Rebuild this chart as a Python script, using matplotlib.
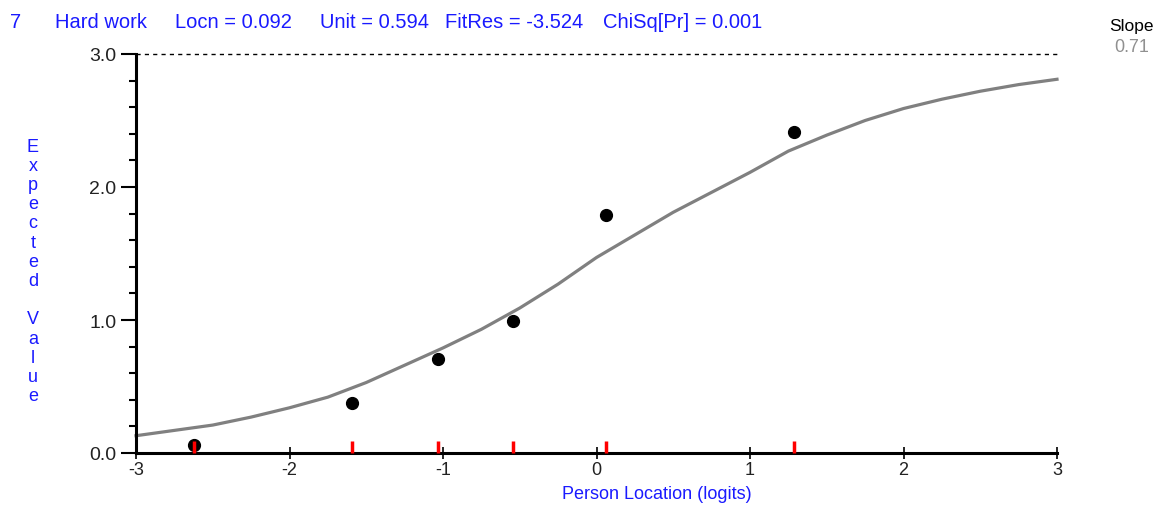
import numpy as np
import matplotlib.pyplot as plt
from matplotlib.ticker import MultipleLocator

# Expected value curve
curve_x = [-3.0, -2.75, -2.5, -2.25, -2.0, -1.75, -1.5, -1.25, -1.0, -0.75, -0.5, -0.25,
           0.0, 0.25, 0.5, 0.75, 1.0, 1.25, 1.5, 1.75, 2.0, 2.25, 2.5, 2.75, 3.0]
curve_y = [0.13, 0.17, 0.21, 0.27, 0.34, 0.42, 0.53, 0.66, 0.79, 0.93, 1.09, 1.27,
           1.47, 1.64, 1.81, 1.96, 2.11, 2.27, 2.39, 2.50, 2.59, 2.66, 2.72, 2.77, 2.81]

# Observed class interval means
obs_x = [-2.62, -1.595, -1.035, -0.547, 0.064, 1.288]
obs_y = [0.06, 0.375, 0.705, 0.99, 1.79, 2.415]

x_ticks = [-3, -2, -1, 0, 1, 2, 3]
y_ticks = [0.0, 1.0, 2.0, 3.0]

header = [("7", 10), ("Hard work", 55), ("Locn = 0.092", 175), ("Unit = 0.594", 320),
          ("FitRes = -3.524", 445), ("ChiSq[Pr] = 0.001", 603)]
slope = "0.71"
ylabel = "Expected Value"
xlabel = "Person Location (logits)"

W, H = 1157, 506
blue = "#1a1aff"
plt.rcParams['font.family'] = ['Liberation Sans', 'DejaVu Sans']

fig = plt.figure(figsize=(W / 100, H / 100), dpi=100)
ax = fig.add_axes([136 / W, 1 - 454 / H, (1057 - 136) / W, (454 - 55) / H])

ax.plot(curve_x, curve_y, color="#808080", lw=2.3, clip_on=False, zorder=2)
ax.plot(obs_x, obs_y, "o", color="black", ms=8.5, clip_on=False, zorder=3)
ax.vlines(obs_x, 0, 0.09, color="red", lw=2.5, clip_on=False, zorder=4)
ax.axhline(3.0, color="black", lw=1, ls=(0, (3, 3)), clip_on=False)

ax.set_xlim(-3, 3)
ax.set_ylim(0, 3)
ax.set_xticks(x_ticks)
ax.set_xticklabels([str(t) for t in x_ticks])
ax.set_yticks(y_ticks)
ax.set_yticklabels([f"{t:.1f}" for t in y_ticks])
ax.yaxis.set_minor_locator(MultipleLocator(0.2))

for s in ["top", "right"]:
    ax.spines[s].set_visible(False)
for s in ["left", "bottom"]:
    ax.spines[s].set_linewidth(2.2)

ax.tick_params(axis="x", direction="inout", length=9, width=1.2, labelsize=13, pad=1, colors="black")
ax.tick_params(axis="y", which="major", direction="out", length=11, width=1.5, labelsize=14, pad=3)
ax.tick_params(axis="y", which="minor", direction="out", length=5, width=1.5)
for lab in ax.get_xticklabels() + ax.get_yticklabels():
    lab.set_color("#222222")

# header line
for txt, px in header:
    fig.text(px / W, 1 - 22 / H, txt, color=blue, fontsize=14.5, ha="left", va="center")
fig.text(1131 / W, 1 - 26 / H, "Slope", color="black", fontsize=12.5, ha="center", va="center")
fig.text(1149 / W, 1 - 48 / H, slope, color="#909090", fontsize=13, ha="right", va="center")

# stacked vertical y label
row = 0
for ch in ylabel:
    if ch != " ":
        fig.text(33 / W, 1 - (147 + row * 19.2) / H, ch, color=blue, fontsize=13,
                 ha="center", va="center")
    row += 1

fig.text(657 / W, 1 - 495 / H, xlabel, color=blue, fontsize=13, ha="center", va="center")

fig.savefig("out.png", dpi=100)
